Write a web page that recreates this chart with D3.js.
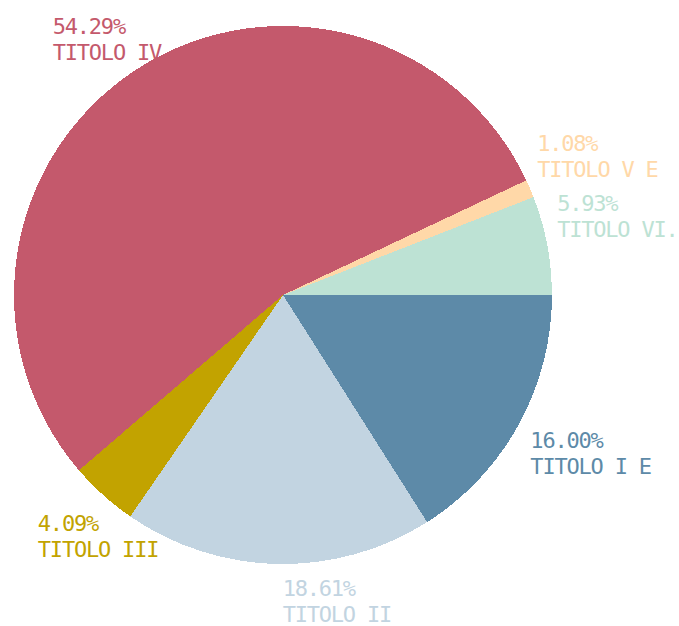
<!DOCTYPE html>
<html>
<head>
<meta charset="utf-8">
<script src="https://cdn.jsdelivr.net/npm/d3@7"></script>
<style>
  html, body { margin: 0; padding: 0; background: #ffffff; }
  svg { display: block; }
  text { font-family: "DejaVu Sans Mono", monospace; font-size: 22px; letter-spacing: -1.2px; }
</style>
</head>
<body>
<svg id="chart" width="679" height="626"></svg>
<script>
const categories = ["TITOLO I E", "TITOLO II", "TITOLO III", "TITOLO IV", "TITOLO V E", "TITOLO VI."];
const values = [16.00, 18.61, 4.09, 54.29, 1.08, 5.93];
const percentLabels = ["16.00%", "18.61%", "4.09%", "54.29%", "1.08%", "5.93%"];
const colors = ["#5d8aa8", "#c2d4e1", "#c2a300", "#c4596c", "#ffd8a8", "#bde2d4"];

const W = 679, H = 626;
const cx = 283, cy = 295, R = 269, labelR = 280;

const svg = d3.select("#chart");
const g = svg.append("g").attr("transform", `translate(${cx},${cy})`);

// angles: start at 3 o'clock, clockwise (d3 angle 0 = 12 o'clock)
const pie = d3.pie().sort(null).value(d => d)
  .startAngle(Math.PI / 2).endAngle(Math.PI / 2 + 2 * Math.PI);
const arcs = pie(values);
const arc = d3.arc().innerRadius(0).outerRadius(R);

g.selectAll("path.slice").data(arcs).join("path")
  .attr("class", "slice")
  .attr("d", arc)
  .attr("fill", (d, i) => colors[i])
  .attr("shape-rendering", "crispEdges");

// label layout nudges (pixels, relative to the anchor on the label circle)
const labelNudge = [
  { dx: 2, dy: 18 },
  { dx: 5, dy: 21 },
  { dx: -58, dy: 28 },
  { dx: -78, dy: -26 },
  { dx: -3, dy: -33 },
  { dx: -1, dy: -32 }
];
const lineH = 26;

arcs.forEach((d, i) => {
  const mid = (d.startAngle + d.endAngle) / 2;
  const px = labelR * Math.sin(mid);
  const py = -labelR * Math.cos(mid);
  const t = g.append("text")
    .attr("x", px + labelNudge[i].dx)
    .attr("y", py + labelNudge[i].dy)
    .attr("fill", colors[i]);
  t.append("tspan").attr("x", px + labelNudge[i].dx).attr("dy", 0).text(percentLabels[i]);
  t.append("tspan").attr("x", px + labelNudge[i].dx).attr("dy", lineH).text(categories[i]);
});
</script>
</body>
</html>
